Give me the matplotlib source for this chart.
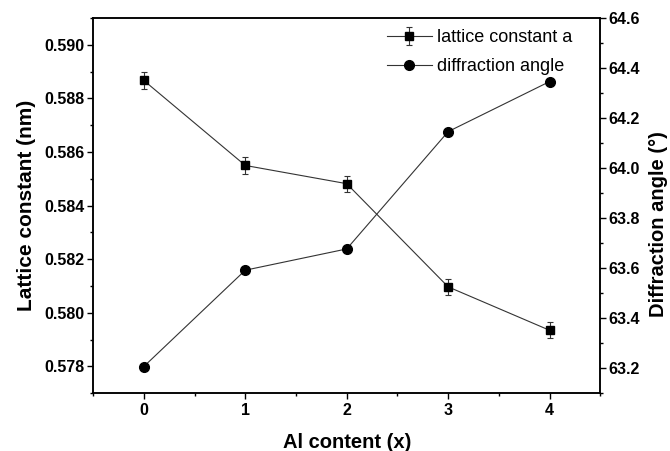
import matplotlib.pyplot as plt
from matplotlib.ticker import MultipleLocator

plt.rcParams['font.family'] = 'Liberation Sans'

al_content = [0, 1, 2, 3, 4]
lattice_a = [0.58867, 0.58550, 0.58482, 0.58097, 0.57935]
lattice_err = [0.00033, 0.00033, 0.00030, 0.00030, 0.00030]
diff_angle = [63.207, 63.592, 63.677, 64.146, 64.346]

fig, ax = plt.subplots(figsize=(6.7, 4.51), dpi=100)
fig.subplots_adjust(left=0.139, right=0.896, top=0.960, bottom=0.128)
ax2 = ax.twinx()

l1 = ax.errorbar(al_content, lattice_a, yerr=lattice_err, color='#333333', lw=0.8,
                 marker='s', ms=5.5, mfc='black', mec='black', ecolor='#333333',
                 elinewidth=0.8, capsize=2.5, capthick=0.8, label='lattice constant a')
l2, = ax2.plot(al_content, diff_angle, color='#333333', lw=0.8, marker='o', ms=7,
               mfc='black', mec='black', label='diffraction angle')

ax.set_xlim(-0.5, 4.5)
ax.set_ylim(0.577, 0.591)
ax2.set_ylim(63.1, 64.6)
ax.set_xticks(al_content)
ax.xaxis.set_minor_locator(MultipleLocator(0.5))
ax.yaxis.set_major_locator(MultipleLocator(0.002))
ax.yaxis.set_minor_locator(MultipleLocator(0.001))
ax.yaxis.set_major_formatter(plt.FormatStrFormatter('%.3f'))
ax2.yaxis.set_major_locator(MultipleLocator(0.2))
ax2.yaxis.set_minor_locator(MultipleLocator(0.1))
ax2.yaxis.set_major_formatter(plt.FormatStrFormatter('%.1f'))

ax.tick_params(which='both', top=False, right=False)
ax2.tick_params(which='both', top=False, bottom=False, left=False, labelbottom=False)
ax2.xaxis.set_ticks_position('none')
for a in (ax, ax2):
    a.tick_params(which='major', length=4, width=1, labelsize=11.5, pad=2)
    a.tick_params(which='minor', length=2.5, width=1)
    for lab in a.get_xticklabels() + a.get_yticklabels():
        lab.set_fontweight('bold')
    for s in a.spines.values():
        s.set_linewidth(1.1)
ax.tick_params(axis='x', pad=3)

ax.set_xlabel('Al content (x)', fontsize=14.5, fontweight='bold', labelpad=11)
ax.set_ylabel('Lattice constant (nm)', fontsize=15, fontweight='bold', labelpad=6)
ax2.set_ylabel('Diffraction angle (°)', fontsize=14.5, fontweight='bold')
ax2.yaxis.set_label_coords(1.096, 0.45)

leg = ax.legend([l1, l2], ['lattice constant a', 'diffraction angle'], loc='upper right',
                bbox_to_anchor=(0.945, 0.97), frameon=False, fontsize=13,
                handlelength=2.5, handletextpad=0.3, borderaxespad=0, borderpad=0,
                labelspacing=0.65)

fig.savefig('out.png', dpi=100)
